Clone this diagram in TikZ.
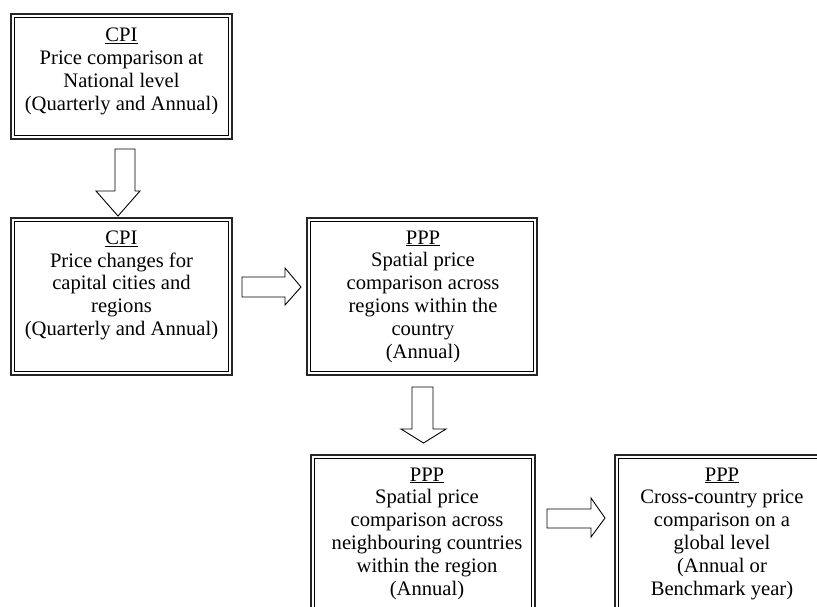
\documentclass[tikz,border=0pt]{standalone}
\usepackage{fontspec}
\setmainfont{Liberation Serif}
\begin{document}
\begin{tikzpicture}[x=1pt,y=-1pt,
  boxtext/.style={anchor=north,align=center,inner sep=0pt,font=\fontsize{20.6}{22.8}\selectfont},
  outerline/.style={draw=black!85,line width=1.8pt},
  innerline/.style={draw=black,line width=0.8pt},
  fatarrow/.style={draw=black,line width=0.9pt,fill=white,line join=miter}]
\useasboundingbox (0,0) rectangle (817,606);
\clip (0,0) rectangle (817,606);
% boxes
\newcommand\dbox[5]{%
  \coordinate (#1nw) at (#2,#3);
  \coordinate (#1se) at (#4,#5);
  \draw[outerline] (#2,#3) rectangle (#4,#5);
  \draw[innerline] (#2+3.2,#3+3.2) rectangle (#4-3.2,#5-3.2);
}
\dbox{a}{11}{14}{232}{139}
\dbox{b}{11}{218}{232}{375}
\dbox{c}{307}{218}{537}{375}
\dbox{d}{311}{455}{535}{640}
\dbox{e}{615}{455}{830}{640}
\node[boxtext] (ta) at (121.5,28) {\underline{CPI}\\Price comparison at\\National level\\(Quarterly and Annual)};
\node[boxtext] (tb) at (121.5,230.5) {\underline{CPI}\\Price changes for\\capital cities and\\regions\\(Quarterly and Annual)};
\node[boxtext] (tc) at (423,230.5) {\underline{PPP}\\Spatial price\\comparison across\\regions within the\\country\\(Annual)};
\node[boxtext] (td) at (427,467.5) {\underline{PPP}\\Spatial price\\comparison across\\neighbouring countries\\within the region\\(Annual)};
\node[boxtext] (te) at (722,467.5) {\underline{PPP}\\Cross-country price\\comparison on a\\global level\\(Annual or\\Benchmark year)};
% block arrows
\draw[fatarrow] (115,149) -- (135,149) -- (135,191) -- (140,191) -- (118,216) -- (96,191) -- (115,191) -- cycle;
\draw[fatarrow] (242,277) -- (285,277) -- (285,268) -- (301,287) -- (285,305) -- (285,297) -- (242,297) -- cycle;
\draw[fatarrow] (412,387) -- (433,387) -- (433,429) -- (446,429) -- (423.5,443) -- (401,429) -- (412,429) -- cycle;
\draw[fatarrow] (547,509) -- (591,509) -- (591,498) -- (605,518) -- (591,537) -- (591,528) -- (547,528) -- cycle;
\end{tikzpicture}
\end{document}
